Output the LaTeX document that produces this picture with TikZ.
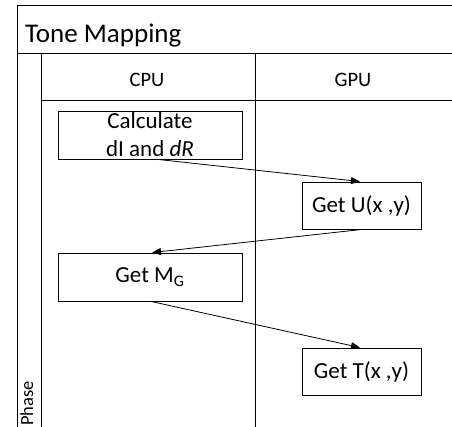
\documentclass[tikz,border=0pt]{standalone}
\usepackage{fontspec}
\setmainfont{Carlito}
\usetikzlibrary{arrows.meta}
\begin{document}
\begin{tikzpicture}[x=1pt,y=-1pt,
  pool/.style={line width=1pt,draw=black},
  proc/.style={draw=black,line width=0.9pt,inner sep=0pt,minimum width=184pt,minimum height=48pt,
    font=\fontsize{23}{28}\selectfont,align=center},
  gproc/.style={proc,minimum width=119pt,minimum height=47pt},
  flow/.style={line width=0.8pt,-{Triangle[length=9pt,width=7pt]}},
  lane/.style={font=\fontsize{20.5}{24}\selectfont,inner sep=0pt,anchor=base}]
\useasboundingbox (0,0) rectangle (452,427);
% pool frame
\draw[pool] (17,427) -- (17,6) -- (455,6);
\draw[pool] (17,54) -- (455,54);
\draw[pool] (41,54) -- (41,427);
\draw[pool] (41,101) -- (455,101);
\draw[pool] (255,54) -- (255,427);
% labels
\node[font=\fontsize{27}{30}\selectfont,inner sep=0pt,anchor=base west] (title) at (25,43) {Tone Mapping};
\node[lane] (cpu) at (147,87) {CPU};
\node[lane] (gpu) at (353,87) {GPU};
\node[font=\fontsize{18.5}{22}\selectfont,inner sep=0pt,anchor=base west,rotate=90] (phase) at (33,426) {Phase};
% processes
\node[proc] (calc) at (150,135) {Calculate\\dI and \textit{dR}};
\node[gproc] (getu) at (361.5,205.5) {Get U(x ,y)};
\node[proc] (getm) at (150,277) {Get M\textsubscript{G}};
\node[gproc] (gett) at (361.5,371.5) {Get T(x ,y)};
% flows
\draw[flow] ([xshift=8pt]calc.south) -- ([xshift=-1.5pt]getu.north);
\draw[flow] ([xshift=0.5pt]getu.south) -- ([xshift=2pt]getm.north);
\draw[flow] ([xshift=1pt]getm.south) -- ([xshift=-1.5pt]gett.north);
\end{tikzpicture}
\end{document}
